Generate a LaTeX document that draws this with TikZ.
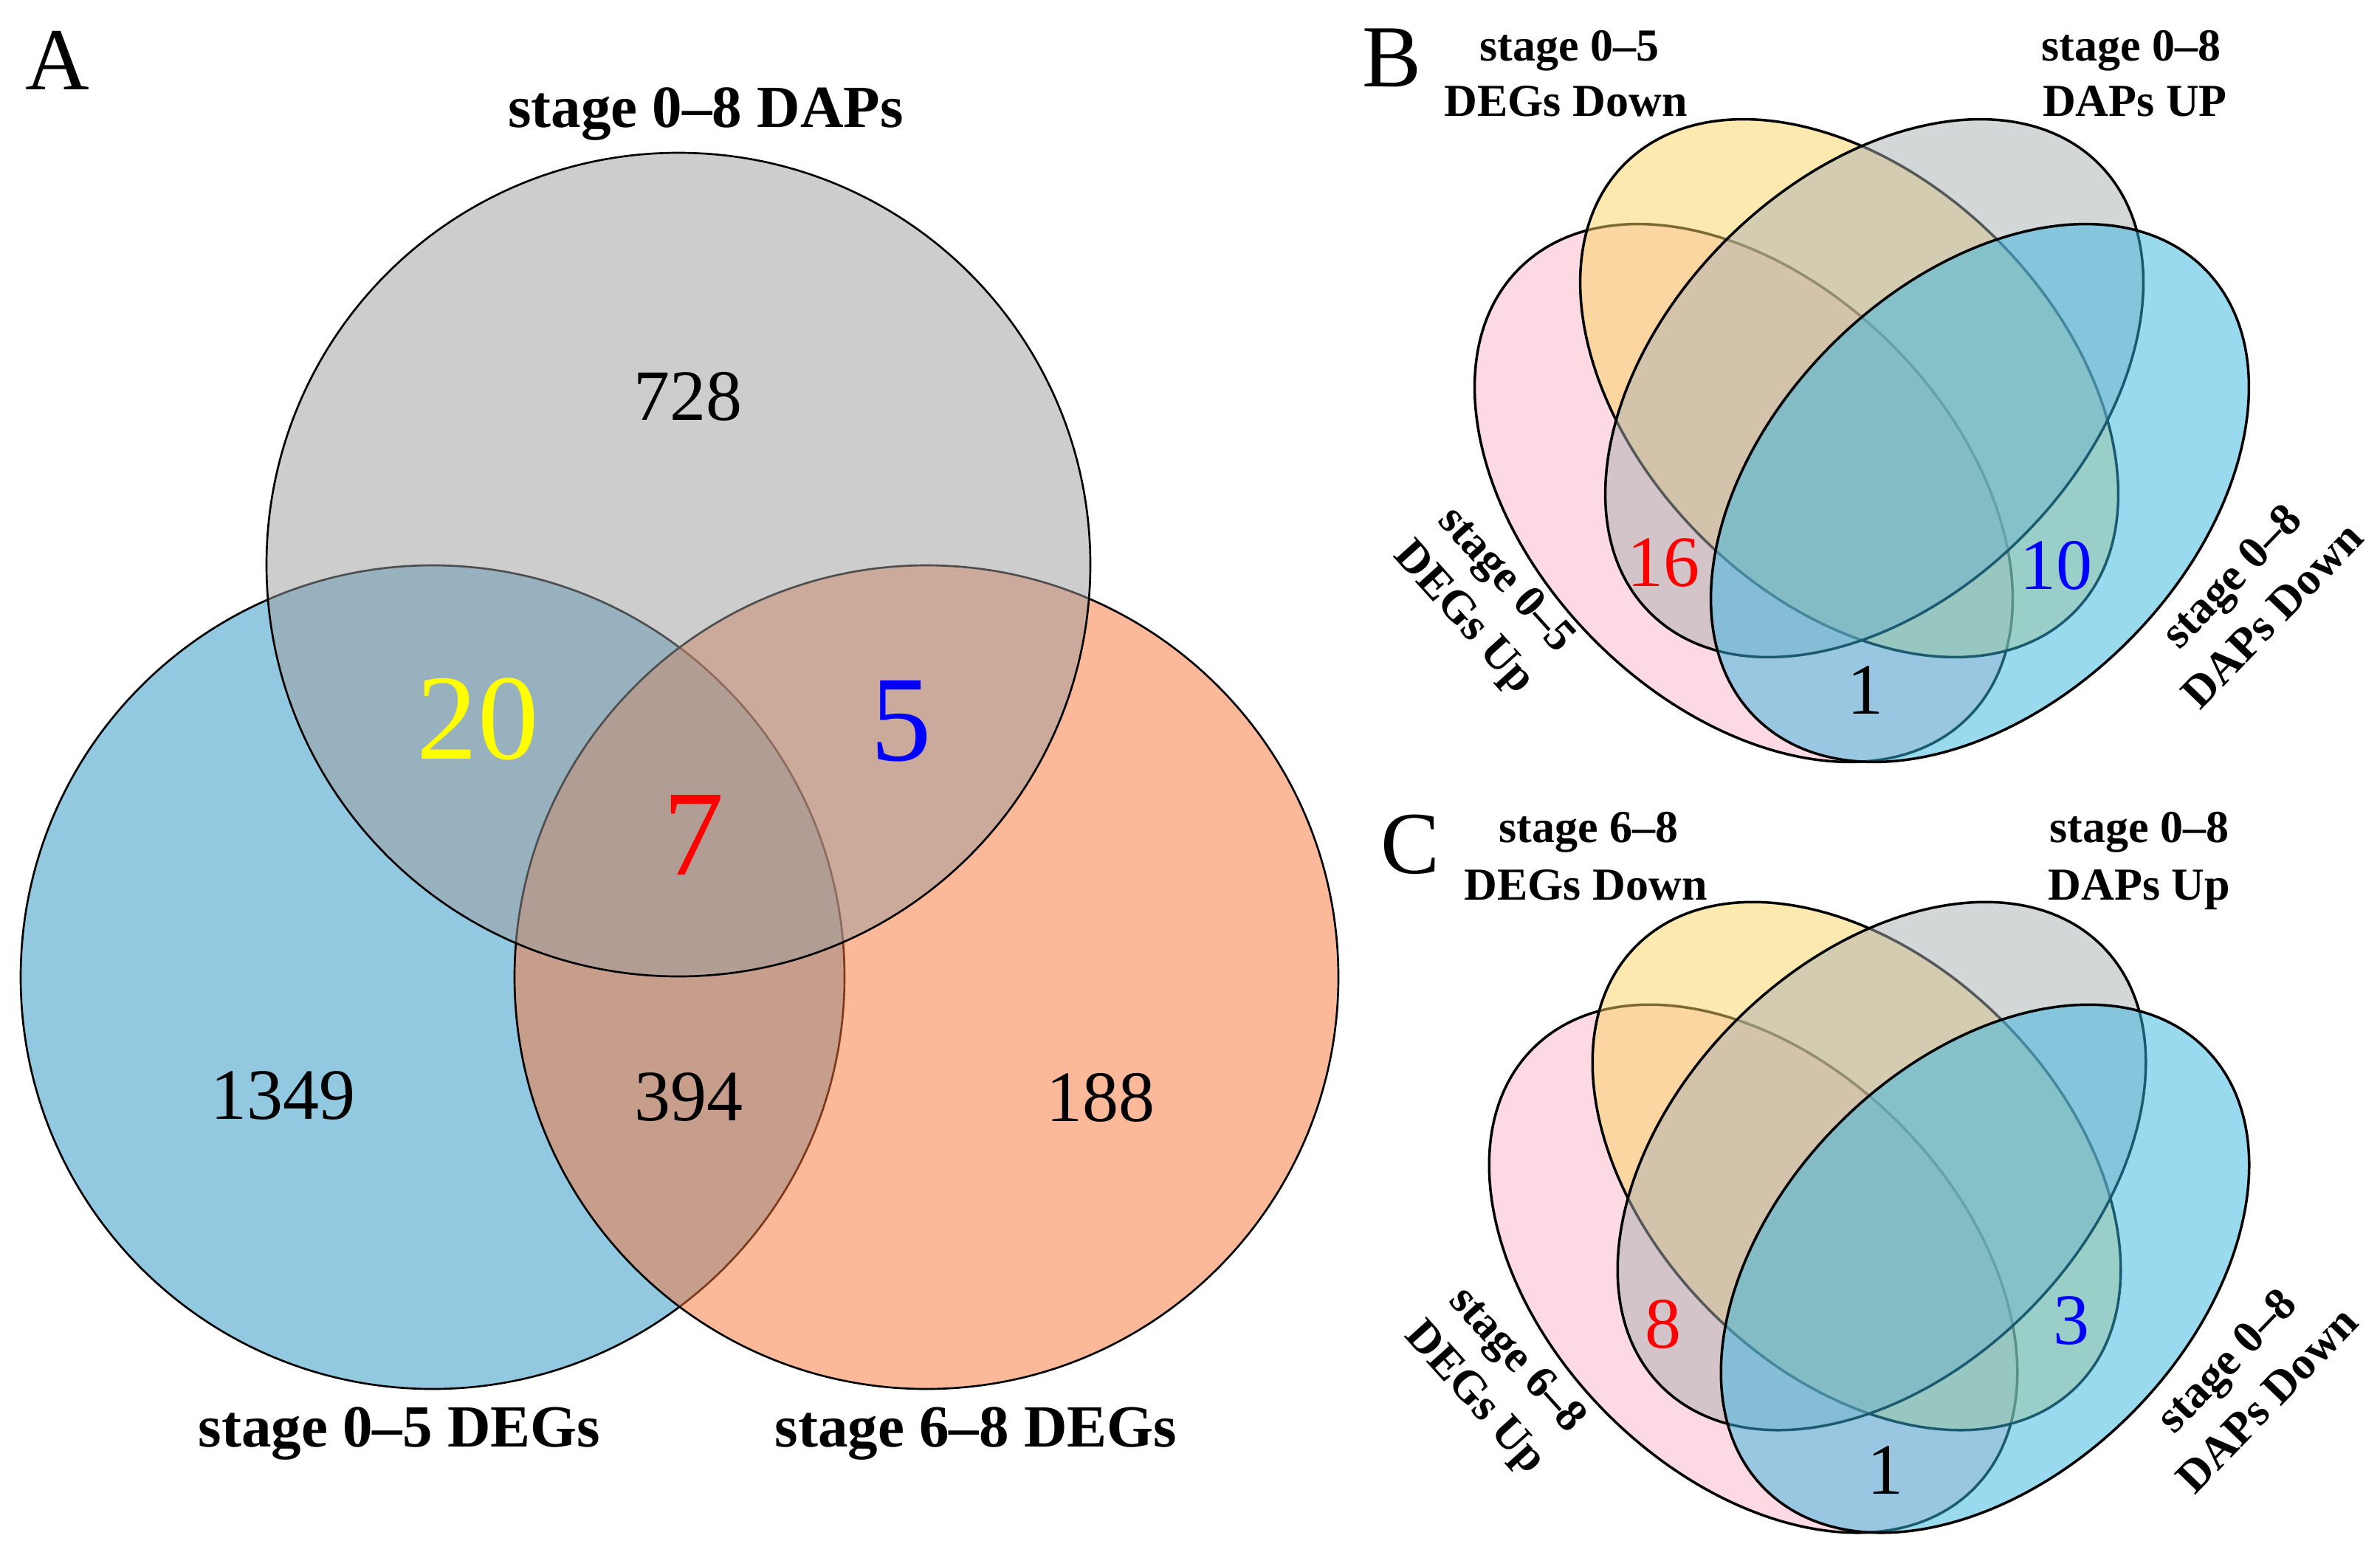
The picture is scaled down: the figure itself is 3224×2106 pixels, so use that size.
\documentclass[tikz,border=0pt]{standalone}
\usepackage{fontspec}
\setmainfont{Liberation Serif}
\definecolor{Ablue}{RGB}{39,147,195}
\definecolor{Aorange}{RGB}{251,117,55}
\definecolor{Agray}{RGB}{157,157,157}
\definecolor{Vpink}{RGB}{251,181,201}
\definecolor{Vyellow}{RGB}{251,213,97}
\definecolor{Vgray}{RGB}{171,177,179}
\definecolor{Vblue}{RGB}{55,183,225}
\definecolor{numred}{RGB}{255,0,0}
\definecolor{numblue}{RGB}{0,0,255}
\definecolor{numyellow}{RGB}{255,255,0}
\tikzset{
  vset/.style={draw=black, line width=0.8pt, fill opacity=0.5},
  qset/.style={draw=black, line width=1.05pt, fill opacity=0.5},
  titlelbl/.style={font=\fontsize{24.3}{29}\selectfont\bfseries, inner sep=0pt, anchor=base},
  sublbl/.style={font=\fontsize{18.6}{23}\selectfont\bfseries, inner sep=0pt, anchor=base},
  rotlbl/.style={font=\fontsize{18.6}{23}\selectfont\bfseries, inner sep=0pt, align=center},
  num/.style={font=\fontsize{29.4}{35}\selectfont, inner sep=0pt},
  bignum/.style={font=\fontsize{49.5}{59}\selectfont, inner sep=0pt},
  panellbl/.style={font=\fontsize{36}{43}\selectfont, inner sep=0pt, anchor=base},
}
\begin{document}
\begin{tikzpicture}[x=0.3pt,y=-0.3pt]
\useasboundingbox (0,0) rectangle (3224,2106);
\fill[white] (0,0) rectangle (3224,2106);

% ---------------- Panel A ----------------
\filldraw[vset, fill=Ablue] (586,1324) circle [radius=558];
\filldraw[vset, fill=Aorange] (1255,1324) circle [radius=558];
\filldraw[vset, fill=Agray] (919,765) circle [radius=558];

\node[panellbl] (pA) at (78,121) {A};
\node[titlelbl] (tDAP) at (956,172) {stage 0–8 DAPs};
\node[titlelbl] (tDEG05) at (541,1960) {stage 0–5 DEGs};
\node[titlelbl] (tDEG68) at (1322,1960) {stage 6–8 DEGs};

\node[num] (n728) at (932,537) {728};
\node[bignum, text=numyellow] (n20) at (647,974) {20};
\node[bignum, text=numblue] (n5) at (1221,977) {5};
\node[bignum, text=numred] (n7) at (940,1131) {7};
\node[num] (n1349) at (383,1485) {1349};
\node[num] (n394) at (933,1487) {394};
\node[num] (n188) at (1491,1487) {188};

% ---------------- Panel B ----------------
\filldraw[qset, fill=Vpink, rotate around={-45:(2362,668)}] (2362,668) ellipse [x radius=430, y radius=284];
\filldraw[qset, fill=Vyellow, rotate around={-45:(2505,526)}] (2505,526) ellipse [x radius=430, y radius=284];
\filldraw[qset, fill=Vgray, rotate around={45:(2539,526)}] (2539,526) ellipse [x radius=430, y radius=284];
\filldraw[qset, fill=Vblue, rotate around={45:(2682,668)}] (2682,668) ellipse [x radius=430, y radius=284];

\node[panellbl] (pB) at (1886,117) {B};
\node[sublbl] (bl1) at (2126,82) {stage 0–5};
\node[sublbl] (bl2) at (2121,157) {DEGs Down};
\node[sublbl] (br1) at (2887,82) {stage 0–8};
\node[sublbl] (br2) at (2892,157) {DAPs UP};
\node[rotlbl, rotate=-48] (bll) at (2010,813) {stage 0–5\\DEGs Up};
\node[rotlbl, rotate=46] (brl) at (3050,807) {stage 0–8\\DAPs Down};

\node[num, text=numred] (b16) at (2253,763) {16};
\node[num, text=numblue] (b10) at (2785,766) {10};
\node[num] (b1) at (2527,935) {1};

% ---------------- Panel C ----------------
\filldraw[qset, fill=Vpink, rotate around={-45:(2375,1719)}] (2375,1719) ellipse [x radius=422, y radius=279];
\filldraw[qset, fill=Vyellow, rotate around={-45:(2515,1580)}] (2515,1580) ellipse [x radius=422, y radius=279];
\filldraw[qset, fill=Vgray, rotate around={45:(2549,1580)}] (2549,1580) ellipse [x radius=422, y radius=279];
\filldraw[qset, fill=Vblue, rotate around={45:(2689,1719)}] (2689,1719) ellipse [x radius=422, y radius=279];

\node[panellbl] (pC) at (1911,1183) {C};
\node[sublbl] (cl1) at (2152,1141) {stage 6–8};
\node[sublbl] (cl2) at (2148,1219) {DEGs Down};
\node[sublbl] (cr1) at (2898,1141) {stage 0–8};
\node[sublbl] (cr2) at (2898,1219) {DAPs Up};
\node[rotlbl, rotate=-48] (cll) at (2025,1870) {stage 6–8\\DEGs Up};
\node[rotlbl, rotate=46] (crl) at (3043,1870) {stage 0–8\\DAPs Down};

\node[num, text=numred] (c8) at (2253,1794) {8};
\node[num, text=numblue] (c3) at (2806,1790) {3};
\node[num] (c1) at (2554,1992) {1};
\end{tikzpicture}
\end{document}
